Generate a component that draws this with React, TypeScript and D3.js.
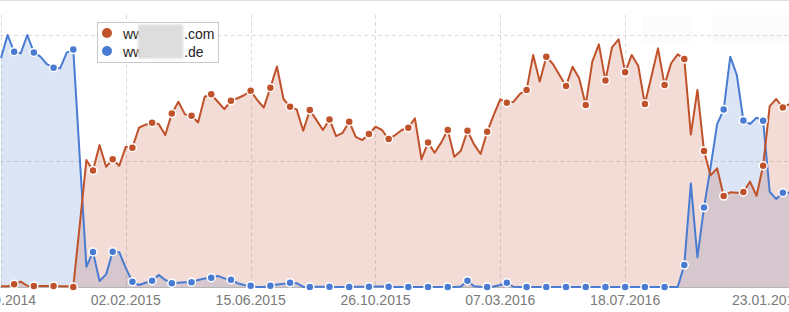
import React from "react";
import * as d3 from "d3";

const seriesNames = ["www.com", "www.de"];
const comValues = [
  0.3, 0.3, 1.1, 2.1, 0.5, 0.4, 0.4, 0.4, 0.4, 0.3, 0.3, 0, 25, 50.4, 46.2, 56.3, 47.7, 50.7, 48.1, 55.7,
  55.3, 63.2, 64.4, 65.2, 64.7, 60.3, 68.8, 73.5, 68.5, 68, 65.3, 75.5, 76.5, 73.5, 70.6, 73.9, 74.9, 76.1, 77.9, 74.2,
  71.2, 79.1, 87.5, 74.6, 71.5, 70.5, 62, 70.2, 66.3, 62.3, 66.5, 59.9, 61.2, 65.6, 59.6, 58.3, 60.7, 63.6, 62.3, 58.7,
  60.3, 62.3, 63.2, 66.9, 50.7, 57.3, 53.3, 57.3, 62.3, 51.7, 54.1, 62, 56.6, 52.8, 61.6, 68.3, 74.5, 73.1, 73.5, 76.6,
  78.2, 92.1, 81.5, 91.4, 88.5, 84.1, 79.8, 87.4, 82.8, 72.2, 89.4, 96.3, 81.9, 95.1, 98.3, 85.2, 92.1, 87.7, 72.6, 83.5,
  94.7, 80.2, 88.8, 92.3, 90.5, 60.5, 78.2, 54, 44.3, 47.1, 36.1, 37.6, 37.4, 37.7, 41.8, 36.2, 48.1, 71.8, 74.6, 71.2,
  72.6,
];
const deValues = [
  90.9, 100, 93.4, 92.7, 100, 93.1, 91.4, 88.4, 87, 86.8, 93, 94.2, 51, 8, 13.9, 2.4, 5, 14, 13.8, 7.5,
  2.1, 0.8, 1.7, 2.5, 4.8, 2.8, 1.5, 1.7, 1.9, 1.9, 2.8, 3.4, 3.7, 4.4, 3.4, 2.9, 1.5, 0.8, 0.5, 0,
  0, 0.5, 1, 1.3, 1.7, 1.5, 0.1, 0, 0.1, 0.1, 0.1, 0, 0, 0, 0.1, 0.1, 0.1, 0.2, 0.2, 0.1,
  0, 0, 0, 0, 0, 0, 0, 0, 0, 0, 0.2, 2.5, 0.3, 0.1, 0, 0.2, 0.8, 1.7, 0.1, 0,
  0, 0, 0, 0, 0, 0, 0, 0, 0, 0, 0, 0, 0, 0, 0, 0, 0, 0, 0, 0,
  0, 0, 0, 0, 8.7, 41.1, 11.8, 31.5, 47.5, 64.6, 70.4, 91.4, 84.1, 66.1, 64.7, 67.2, 66, 37.8, 34.9, 37.4,
  37.4,
];
const tickIndex = [0, 19, 38, 57, 76, 95, 116.6];
const tickLabels = ["22.09.2014", "02.02.2015", "15.06.2015", "26.10.2015", "07.03.2016", "18.07.2016", "23.01.2017"];
const gridIndex = [0, 19, 38, 57, 76, 95];
const gridValues = [50, 100];

const W = 789;
const H = 312;
const COM = "#c0522b";
const DE = "#4a7bd2";

export default function App() {
  const n = comValues.length;
  const x = d3.scaleLinear().domain([0, n - 1]).range([1, 1 + 6.57 * (n - 1)]);
  const y = d3.scaleLinear().domain([0, 100]).range([287, 35]);
  const idx = d3.range(n);

  const area = (vals: number[]) =>
    d3.area<number>().x((i) => x(i)).y0(y(0)).y1((i) => y(vals[i]))(idx) || "";
  const line = (vals: number[]) =>
    d3.line<number>().x((i) => x(i)).y((i) => y(vals[i]))(idx) || "";

  const markers = idx.filter((i) => i % 3 === 2);
  const series = [
    { vals: deValues, color: DE },
    { vals: comValues, color: COM },
  ];

  return (
    <div style={{ position: "absolute", left: 0, top: 0 }}>
      <svg width={W} height={H} style={{ display: "block", fontFamily: "Arial, 'Liberation Sans', sans-serif" }}>
        <defs>
          <clipPath id="plot">
            <rect x={0} y={0} width={W} height={H} />
          </clipPath>
          <filter id="blur" x="-20%" y="-20%" width="140%" height="140%">
            <feGaussianBlur stdDeviation="1.2" />
          </filter>
        </defs>
        <rect x={0} y={0} width={W} height={H} fill="#fff" />
        <line x1={0} x2={W} y1={0.5} y2={0.5} stroke="#dedede" />
        <rect x={712} y={15} width={77} height={28} fill="#fbfbfb" />
        <rect x={642} y={15} width={50} height={28} fill="#fcfcfc" />
        {gridValues.map((v) => (
          <line key={"h" + v} x1={0} x2={W} y1={Math.round(y(v)) + 0.5} y2={Math.round(y(v)) + 0.5}
            stroke="#dadada" strokeDasharray="4,3" />
        ))}
        {gridIndex.map((t) => (
          <line key={"v" + t} x1={Math.round(x(t)) + 0.5} x2={Math.round(x(t)) + 0.5} y1={15} y2={287}
            stroke="#dadada" strokeDasharray="4,3" />
        ))}
        <g clipPath="url(#plot)">
          {series.map((s, k) => (
            <path key={"a" + k} d={area(s.vals)} fill={s.color} fillOpacity={0.2} />
          ))}
          <line x1={0} x2={W} y1={287.5} y2={287.5} stroke="#b5b5b5" />
          {series.map((s, k) => (
            <path key={"l" + k} d={line(s.vals)} fill="none" stroke={s.color} strokeWidth={2} strokeLinejoin="round" />
          ))}
          {series.map((s, k) =>
            markers.map((i) => (
              <circle key={"m" + k + "_" + i} cx={x(i)} cy={y(s.vals[i])} r={4} fill={s.color} stroke="#fff" strokeWidth={1.5} />
            ))
          )}
        </g>
        {tickIndex.map((t, j) => (
          <text key={"t" + j} x={x(t)} y={305} textAnchor="middle" fontSize={14} fill="#7a7a7a">
            {tickLabels[j]}
          </text>
        ))}
        <g>
          <rect x={97.5} y={22.5} width={121} height={40} fill="#fff" stroke="#c8c8c8" />
          {seriesNames.map((name, j) => {
            const suffix = name.slice(name.lastIndexOf("."));
            return (
              <g key={"lg" + j}>
                <circle cx={107} cy={33 + j * 18} r={5} fill={j === 0 ? COM : DE} />
                <text x={123} y={38.5 + j * 18} fontSize={14} fill="#222">www</text>
                <text x={184} y={38.5 + j * 18} fontSize={14} fill="#222">{suffix}</text>
              </g>
            );
          })}
          <rect x={138} y={24.5} width={45} height={34} fill="#dddddd" filter="url(#blur)" />
        </g>
      </svg>
    </div>
  );
}
